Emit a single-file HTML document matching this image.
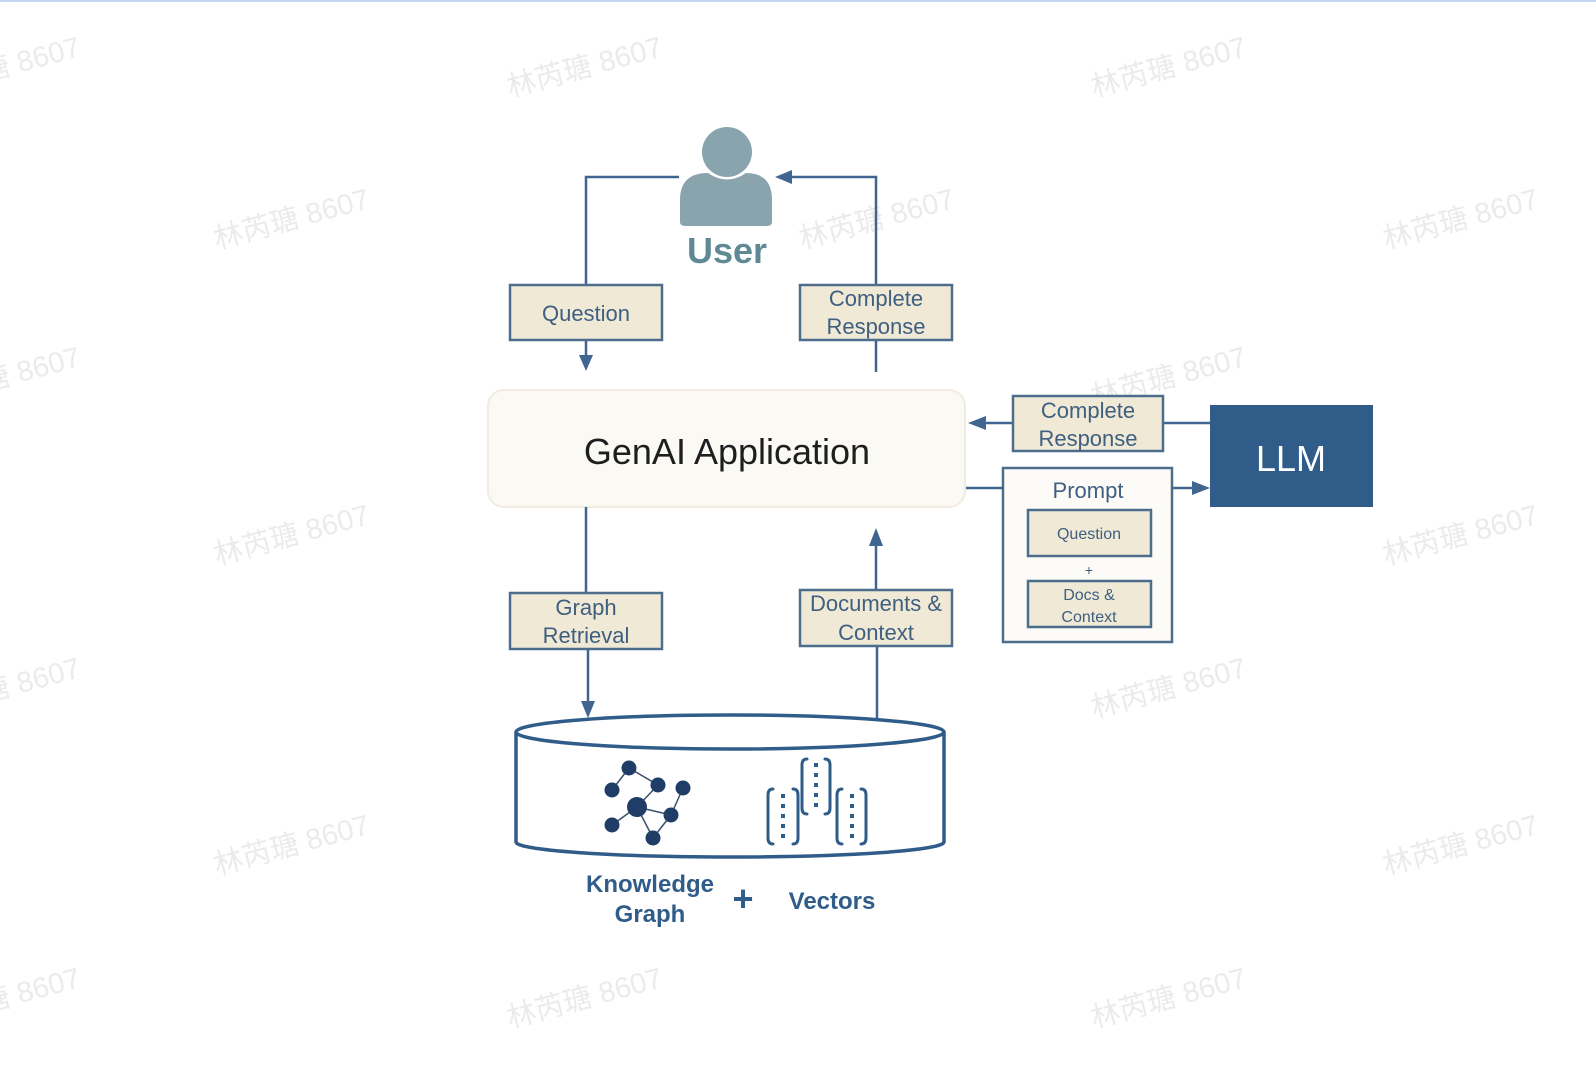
<!DOCTYPE html>
<html><head><meta charset="utf-8"><style>
html,body{margin:0;padding:0;background:#fff;}
svg{display:block;}
text{font-family:"Liberation Sans","DejaVu Sans",sans-serif;}
.wm{font-family:"Liberation Sans","Noto Sans CJK SC",sans-serif;font-size:29px;fill:#ebebeb;}
.lb{font-size:22px;fill:#3f5f80;text-anchor:middle;}
.bx{fill:#efe9d6;stroke:#4d6d8c;stroke-width:2.5;}
.ln{stroke:#3f6590;stroke-width:2.5;fill:none;}
.ah{fill:#3f6590;}
</style></head><body>
<svg width="1596" height="1092" viewBox="0 0 1596 1092" xmlns="http://www.w3.org/2000/svg">
<rect x="0" y="0" width="1596" height="2" fill="#c4d6f5"/>
<g>
<text class="wm" transform="translate(-72,97) rotate(-15)">林芮瑭 8607</text>
<text class="wm" transform="translate(510,97) rotate(-15)">林芮瑭 8607</text>
<text class="wm" transform="translate(1094,97) rotate(-15)">林芮瑭 8607</text>
<text class="wm" transform="translate(217,249) rotate(-15)">林芮瑭 8607</text>
<text class="wm" transform="translate(802,249) rotate(-15)">林芮瑭 8607</text>
<text class="wm" transform="translate(1386,249) rotate(-15)">林芮瑭 8607</text>
<text class="wm" transform="translate(-72,407) rotate(-15)">林芮瑭 8607</text>
<text class="wm" transform="translate(1094,407) rotate(-15)">林芮瑭 8607</text>
<text class="wm" transform="translate(217,565) rotate(-15)">林芮瑭 8607</text>
<text class="wm" transform="translate(1386,565) rotate(-15)">林芮瑭 8607</text>
<text class="wm" transform="translate(-72,718) rotate(-15)">林芮瑭 8607</text>
<text class="wm" transform="translate(1094,718) rotate(-15)">林芮瑭 8607</text>
<text class="wm" transform="translate(217,875) rotate(-15)">林芮瑭 8607</text>
<text class="wm" transform="translate(1386,875) rotate(-15)">林芮瑭 8607</text>
<text class="wm" transform="translate(-72,1028) rotate(-15)">林芮瑭 8607</text>
<text class="wm" transform="translate(510,1028) rotate(-15)">林芮瑭 8607</text>
<text class="wm" transform="translate(1094,1028) rotate(-15)">林芮瑭 8607</text>
</g>

<circle cx="727" cy="152" r="25" fill="#8aa4ae"/>
<path d="M680,222 L680,200 Q680,173 708,173 Q727,186 746,173 Q772,173 772,200 L772,222 Q772,226 766,226 L686,226 Q680,226 680,222 Z" fill="#8aa4ae"/>
<text x="727" y="263" font-size="36" font-weight="bold" fill="#5f8a94" text-anchor="middle">User</text>

<path class="ln" d="M586,284 L586,177 L679,177"/>
<path class="ln" d="M586,340 L586,356"/>
<polygon class="ah" points="579,355 593,355 586,371"/>
<path class="ln" d="M876,284 L876,177 L792,177"/>
<polygon class="ah" points="775,177 792,170 792,184"/>
<path class="ln" d="M876,340 L876,372"/>

<rect class="bx" x="510" y="285" width="152" height="55"/>
<text class="lb" x="586" y="321">Question</text>
<rect class="bx" x="800" y="285" width="152" height="55"/>
<text class="lb" x="876" y="306">Complete</text>
<text class="lb" x="876" y="334">Response</text>

<rect x="488" y="390" width="477" height="117" rx="16" fill="#fbf9f4" stroke="#f1ecdf" stroke-width="2"/>
<text x="727" y="464" font-size="36" fill="#1e1e1e" text-anchor="middle">GenAI Application</text>

<path class="ln" d="M985,423 L1013,423"/>
<polygon class="ah" points="968,423 986,416 986,430"/>
<path class="ln" d="M1163,423 L1210,423"/>
<rect class="bx" x="1013" y="396" width="150" height="55"/>
<text class="lb" x="1088" y="418">Complete</text>
<text class="lb" x="1088" y="446">Response</text>
<rect x="1210" y="405" width="163" height="102" fill="#305c89"/>
<text x="1291" y="471" font-size="36" fill="#fff" text-anchor="middle">LLM</text>
<path class="ln" d="M966,488 L1003,488"/>
<path class="ln" d="M1172,488 L1193,488"/>
<polygon class="ah" points="1210,488 1192,481 1192,495"/>
<rect x="1003" y="468" width="169" height="174" fill="#fcfbf8" stroke="#4d6d8c" stroke-width="2.5"/>
<text class="lb" x="1088" y="498">Prompt</text>
<rect class="bx" x="1028" y="510" width="123" height="46"/>
<text class="lb" x="1089" y="539" font-size="16" style="font-size:16px">Question</text>
<text class="lb" x="1089" y="575" style="font-size:14px">+</text>
<rect class="bx" x="1028" y="581" width="123" height="46"/>
<text class="lb" x="1089" y="600" style="font-size:16px">Docs &amp;</text>
<text class="lb" x="1089" y="622" style="font-size:16px">Context</text>

<path class="ln" d="M586,507 L586,593"/>
<path class="ln" d="M588,649 L588,702"/>
<polygon class="ah" points="581,701 595,701 588,718"/>
<path class="ln" d="M877,718 L877,646"/>
<path class="ln" d="M876,589 L876,545"/>
<polygon class="ah" points="869,546 883,546 876,528"/>
<rect class="bx" x="510" y="593" width="152" height="56"/>
<text class="lb" x="586" y="615">Graph</text>
<text class="lb" x="586" y="643">Retrieval</text>
<rect class="bx" x="800" y="590" width="152" height="56"/>
<text class="lb" x="876" y="611">Documents &amp;</text>
<text class="lb" x="876" y="640">Context</text>

<path d="M516,732 L516,842 A214,15 0 0 0 944,842 L944,732" fill="#fff" stroke="#305c89" stroke-width="3.5"/>
<ellipse cx="730" cy="732" rx="214" ry="17" fill="#fff" stroke="#305c89" stroke-width="3.5"/>

<g stroke="#3a4f6e" stroke-width="1.5">
<line x1="629" y1="768" x2="612" y2="790"/>
<line x1="629" y1="768" x2="658" y2="785"/>
<line x1="658" y1="785" x2="637" y2="807"/>
<line x1="683" y1="788" x2="671" y2="815"/>
<line x1="637" y1="807" x2="671" y2="815"/>
<line x1="637" y1="807" x2="612" y2="825"/>
<line x1="637" y1="807" x2="653" y2="838"/>
<line x1="671" y1="815" x2="653" y2="838"/>
</g>
<g fill="#1f3d66">
<circle cx="629" cy="768" r="7.5"/><circle cx="612" cy="790" r="7.5"/>
<circle cx="658" cy="785" r="7.5"/><circle cx="683" cy="788" r="7.5"/>
<circle cx="637" cy="807" r="10"/><circle cx="671" cy="815" r="7.5"/>
<circle cx="612" cy="825" r="7.5"/><circle cx="653" cy="838" r="7.5"/>
</g>

<g fill="none" stroke="#305c89" stroke-width="3" stroke-linecap="round">
<path d="M773,789 Q768,789 768,795 L768,838 Q768,844 773,844"/>
<path d="M793,789 Q798,789 798,795 L798,838 Q798,844 793,844"/>
<path d="M807,759 Q802,759 802,765 L802,808 Q802,814 807,814"/>
<path d="M825,759 Q830,759 830,765 L830,808 Q830,814 825,814"/>
<path d="M842,789 Q837,789 837,795 L837,838 Q837,844 842,844"/>
<path d="M861,789 Q866,789 866,795 L866,838 Q866,844 861,844"/>
</g>
<g fill="#305c89">
<rect x="781" y="794" width="4" height="4"/><rect x="781" y="804" width="4" height="4"/><rect x="781" y="814" width="4" height="4"/><rect x="781" y="824" width="4" height="4"/><rect x="781" y="834" width="4" height="4"/>
<rect x="814" y="763" width="4" height="4"/><rect x="814" y="773" width="4" height="4"/><rect x="814" y="783" width="4" height="4"/><rect x="814" y="793" width="4" height="4"/><rect x="814" y="803" width="4" height="4"/>
<rect x="850" y="794" width="4" height="4"/><rect x="850" y="804" width="4" height="4"/><rect x="850" y="814" width="4" height="4"/><rect x="850" y="824" width="4" height="4"/><rect x="850" y="834" width="4" height="4"/>
</g>

<text x="650" y="892" font-size="24" font-weight="bold" fill="#305c89" text-anchor="middle">Knowledge</text>
<text x="650" y="922" font-size="24" font-weight="bold" fill="#305c89" text-anchor="middle">Graph</text>
<text x="743" y="911" font-size="36" font-weight="bold" fill="#305c89" text-anchor="middle">+</text>
<text x="832" y="909" font-size="24" font-weight="bold" fill="#305c89" text-anchor="middle">Vectors</text>
</svg>
</body></html>
